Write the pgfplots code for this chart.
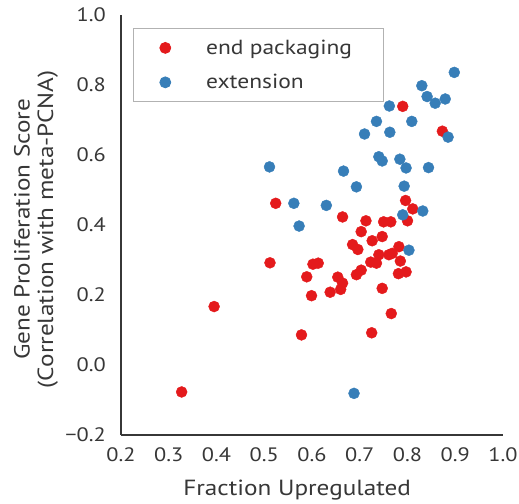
\documentclass[border=0pt]{standalone}
\usepackage{fontspec}
\setmainfont[FakeStretch=1.15]{PT Sans}
\usepackage{pgfplots}
\pgfplotsset{compat=1.18}
\definecolor{cred}{RGB}{228,26,28}
\definecolor{cblue}{RGB}{55,126,184}
\definecolor{axgray}{RGB}{55,55,55}
\begin{document}
\begin{tikzpicture}
\begin{axis}[
  scale only axis,
  width=382bp, height=420bp,
  xmin=0.2, xmax=1.0, ymin=-0.2, ymax=1.0,
  axis x line*=bottom, axis y line*=left,
  axis line style={draw=axgray, line width=1.6bp, -},
  xtick={0.2,0.3,0.4,0.5,0.6,0.7,0.8,0.9,1.0},
  xticklabels={0.2,0.3,0.4,0.5,0.6,0.7,0.8,0.9,1.0},
  ytick={-0.2,0,0.2,0.4,0.6,0.8,1.0},
  yticklabels={−0.2,0.0,0.2,0.4,0.6,0.8,1.0},
  major tick length=0pt,
  tick label style={font=\fontsize{19.5}{23}\selectfont, text=axgray},
  xticklabel style={inner sep=0pt, anchor=north, yshift=-12bp},
  yticklabel style={inner sep=0pt, anchor=east, xshift=-15bp},
  xlabel={Fraction Upregulated},
  xlabel style={font=\fontsize{22}{24}\selectfont, text=axgray, at={(axis description cs:0.461,-0.143)}, anchor=base},
  ylabel={Gene Proliferation Score\\(Correlation with meta-PCNA)},
  ylabel style={font=\fontsize{22}{23.5}\selectfont, text=axgray, align=center, at={(axis description cs:-0.2225,0.49)}, anchor=center, rotate=0},
  legend style={at={(axis description cs:0.0314,0.969)}, anchor=north west,
    draw=black!30, line width=0.8bp, inner xsep=26bp, inner ysep=11.5bp,
    row sep=18.5bp, column sep=35bp,
    font=\fontsize{20.5}{24}\selectfont, text=axgray,
    nodes={inner sep=0pt}},
  legend cell align=left,
  legend image code/.code={\fill[#1] (0bp,0bp) circle (5.5bp);},
  clip=false,
]
\coordinate (ll) at (rel axis cs:0,0);
\coordinate (ur) at (rel axis cs:1,1);
\addplot[only marks, mark=*, mark size=5.5bp, color=cred, mark options={draw=none, fill=cred}] coordinates {
(0.790,0.739) (0.873,0.668) (0.796,0.470) (0.811,0.446) (0.524,0.462)
(0.664,0.423) (0.713,0.412) (0.750,0.409) (0.765,0.409) (0.800,0.412)
(0.703,0.381) (0.726,0.355) (0.747,0.367) (0.685,0.344) (0.696,0.330)
(0.782,0.338) (0.512,0.292) (0.602,0.288) (0.613,0.291) (0.589,0.252)
(0.654,0.251) (0.664,0.234) (0.660,0.216) (0.638,0.208) (0.599,0.198)
(0.693,0.258) (0.703,0.271) (0.723,0.294) (0.735,0.291) (0.740,0.315)
(0.761,0.315) (0.768,0.319) (0.785,0.297) (0.781,0.261) (0.797,0.266)
(0.747,0.219) (0.766,0.147) (0.395,0.167) (0.578,0.086) (0.725,0.092)
(0.327,-0.077)
};
\addlegendentry{end packaging\hspace*{5bp}}
\addplot[only marks, mark=*, mark size=5.5bp, color=cblue, mark options={draw=none, fill=cblue}] coordinates {
(0.898,0.836) (0.830,0.798) (0.841,0.767) (0.858,0.748) (0.879,0.760)
(0.762,0.740) (0.809,0.696) (0.735,0.696) (0.710,0.660) (0.763,0.665)
(0.885,0.651) (0.740,0.595) (0.747,0.583) (0.784,0.588) (0.797,0.563)
(0.844,0.564) (0.511,0.566) (0.666,0.554) (0.693,0.509) (0.793,0.511)
(0.562,0.462) (0.630,0.456) (0.573,0.397) (0.790,0.429) (0.832,0.440)
(0.803,0.328) (0.688,-0.081)
};
\addlegendentry{extension}
\end{axis}
\pgfresetboundingbox
\path ([shift={(-121bp,-68bp)}]ll) rectangle ([shift={(16bp,15bp)}]ur);
\end{tikzpicture}
\end{document}
